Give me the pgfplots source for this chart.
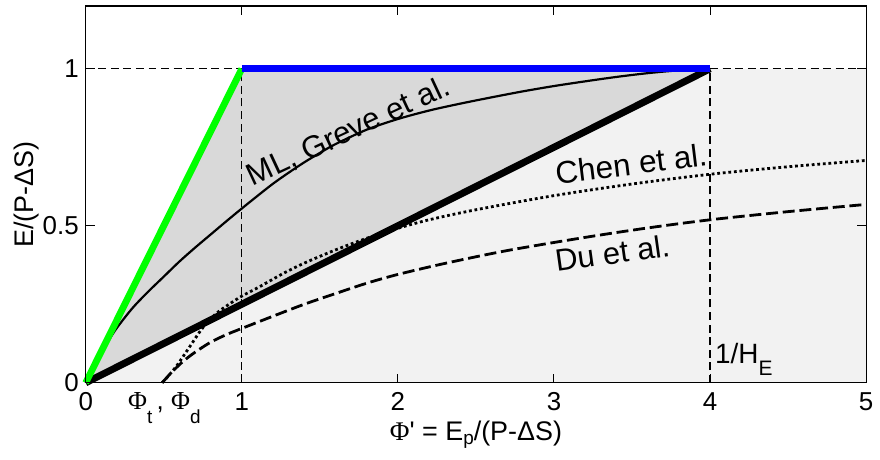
\documentclass[border=0pt]{standalone}
\usepackage{pgfplots}
\pgfplotsset{compat=1.18}
\usepackage{fontspec}
\setmainfont{Liberation Sans}
\newfontfamily\serif{Liberation Serif}
\definecolor{darkshade}{gray}{0.85}
\definecolor{lightshade}{gray}{0.95}
\newcommand{\sub}[2]{\raisebox{#1}{\fontsize{9.5}{10}\selectfont #2}}

\begin{document}
\begin{tikzpicture}
    \begin{axis}[
            scale only axis,
            width=391.5pt,
            height=189pt,
            xmin=0, xmax=5,
            ymin=0, ymax=1.2,
            xtick={0,1,2,3,4,5},
            ytick={0,0.5,1},
            tick align=inside,
            major tick length=4.5pt,
            axis line style={line width=0.6pt},
            every tick/.style={black, line width=0.5pt},
            tick label style={font=\fontsize{13}{15}\selectfont},
            xticklabel style={yshift=-1.2pt},
            /pgf/number format/assume math mode=true,
            xlabel={{\serif Φ}\textquotesingle{} = E\sub{-2pt}{p}/(P-ΔS)},
            ylabel={E/(P-ΔS)},
            label style={font=\fontsize{13.5}{16}\selectfont},
            xlabel style={at={(axis description cs:0.5,-0.1526)}, anchor=base},
            ylabel style={at={(axis description cs:-0.0754,0.5)}, anchor=center},
            axis on top,
            clip=false,
        ]
        % shaded regions
        \addplot[draw=none, fill=lightshade] coordinates {(0,0) (4,1) (5,1) (5,0)} -- cycle;
        \addplot[draw=none, fill=darkshade] coordinates {(0,0) (1,1) (4,1)} -- cycle;

        % thin dashed guides
        \addplot[black, line width=0.6pt, dash pattern=on 4pt off 2.3pt] coordinates {(0,1) (1,1)};
        \addplot[black, line width=0.6pt, dash pattern=on 4pt off 2.3pt] coordinates {(4,1) (5,1)};
        \addplot[black, line width=0.6pt, dash pattern=on 4pt off 2.3pt] coordinates {(1,0) (1,1)};
        \addplot[black, line width=0.6pt, dash pattern=on 4pt off 2.3pt] coordinates {(4,0) (4,1)};

        % ML, Greve et al.
        \addplot[black, line width=1.1pt, smooth] coordinates {
            (0,0) (0.05,0.049) (0.1,0.095) (0.15,0.137) (0.2,0.175) (0.3,0.238)
            (0.4,0.29) (0.5,0.338) (0.6,0.386) (0.7,0.43) (0.8,0.472) (0.9,0.514)
            (1.0,0.555) (1.1,0.595) (1.2,0.634) (1.3,0.669) (1.4,0.702) (1.5,0.732)
            (1.6,0.76) (1.8,0.806) (2.0,0.84) (2.2,0.867) (2.4,0.889) (2.6,0.909)
            (2.8,0.928) (3.0,0.945) (3.2,0.96) (3.4,0.974) (3.6,0.986) (3.8,0.995) (4.0,1.0)
        };

        % Du et al.
        \addplot[black, line width=1.4pt, dash pattern=on 6pt off 2.4pt, smooth] coordinates {
            (0.49,0) (0.55,0.033) (0.626,0.069) (0.7,0.097) (0.8,0.129) (0.9,0.153)
            (1.0,0.173) (1.2,0.212) (1.4,0.25) (1.6,0.284) (1.8,0.317) (2.0,0.345)
            (2.3,0.38) (2.7,0.421) (3.2,0.463) (3.6,0.493) (4.0,0.519) (4.5,0.545) (5.0,0.568)
        };

        % Chen et al.
        \addplot[black, line width=1.4pt, dash pattern=on 1.4pt off 1.4pt, smooth] coordinates {
            (0.49,0) (0.53,0.022) (0.58,0.052) (0.63,0.088) (0.68,0.125) (0.73,0.162)
            (0.78,0.193) (0.84,0.222) (0.9,0.244) (1.0,0.276) (1.1,0.302) (1.265,0.348)
            (1.4,0.381) (1.6,0.423) (1.8,0.46) (2.0,0.492) (2.2,0.519) (2.5,0.551)
            (3.0,0.596) (3.5,0.633) (4.0,0.664) (4.5,0.688) (5.0,0.708)
        };

        % bounds
        \addplot[black, line width=3.5pt] coordinates {(0,0) (4,1)};
        \addplot[color={rgb,1:red,0;green,1;blue,0}, line width=3.4pt] coordinates {(0,0) (1,1)};
        \addplot[color={rgb,1:red,0;green,0;blue,1}, line width=3.6pt] coordinates {(1,1) (4,1)};

        % annotations
        \node[anchor=base west, rotate=25, font=\fontsize{15.5}{18}\selectfont] at (axis cs:1.03,0.615) {ML, Greve et al.};
        \node[anchor=base west, rotate=7, font=\fontsize{15.8}{18}\selectfont] at (axis cs:2.974,0.63) {Chen et al.};
        \node[anchor=base west, rotate=8, font=\fontsize{15.5}{18}\selectfont] at (axis cs:2.974,0.35) {Du et al.};
        \node[anchor=base west, inner sep=0pt, font=\fontsize{14}{16}\selectfont] at (axis cs:4.03,0.06) {1/H\raisebox{-5.8pt}{\fontsize{10.5}{11}\selectfont E}};
        \node[anchor=base, inner sep=0pt, font=\fontsize{13}{15}\selectfont, yshift=-13.4pt] at (axis cs:0.504,0) {{\serif Φ}\sub{-7pt}{t}\,, {\serif Φ}\sub{-7pt}{d}};
    \end{axis}
    \path (current axis.south west) ++(-43pt,-38.5pt) rectangle ++(440pt,230.5pt);
\end{tikzpicture}
\end{document}
